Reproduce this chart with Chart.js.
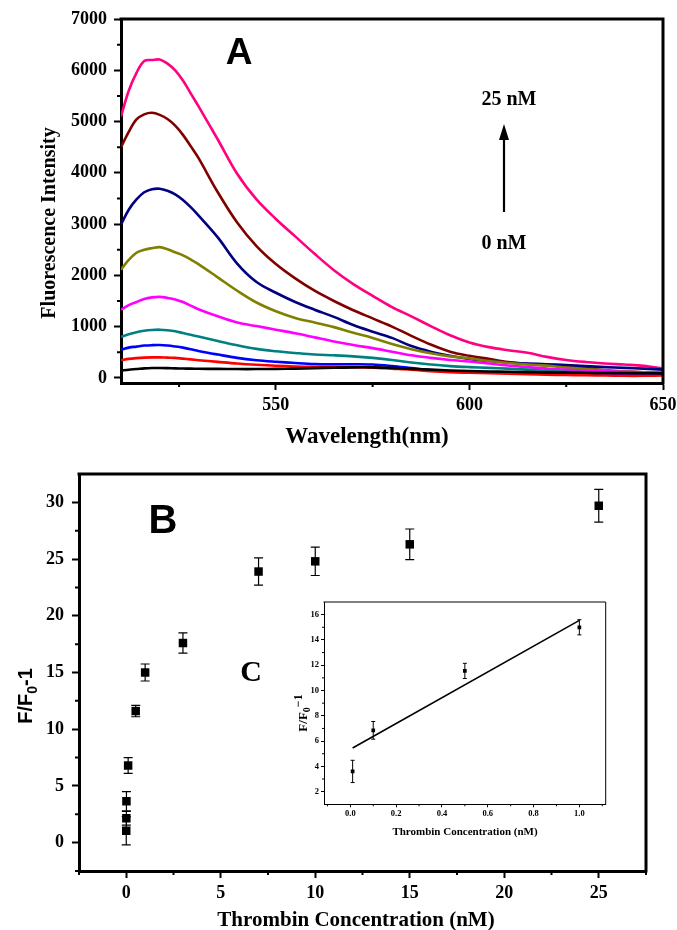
<!DOCTYPE html>
<html><head><meta charset="utf-8">
<script src="https://cdn.jsdelivr.net/npm/chart.js@4.4.1/dist/chart.umd.min.js"></script>
<style>
html,body{margin:0;padding:0;background:#fff;}
body{width:677px;height:930px;position:relative;overflow:hidden;}
canvas{position:absolute;}
</style></head><body>
<canvas id="cA" width="677" height="455" style="left:0;top:0;width:677px;height:455px"></canvas>
<canvas id="cB" width="677" height="475" style="left:0;top:455px;width:677px;height:475px"></canvas>
<canvas id="cC" width="350" height="260" style="left:270px;top:590px;width:350px;height:260px"></canvas>
<script>
// ---------- Panel A data ----------
const wavelengths = [510,512,514,516,518,520,522,524,526,528,530,535,540,545,550,555,560,565,570,575,580,585,590,595,600,605,610,615,620,625,630,635,640,645,650];
const intensity0  = [145,160,172,185,192,192,190,185,182,180,178,175,172,172,175,180,190,198,205,205,195,175,160,145,135,125,118,112,108,104,100,96,94,90,88];
const intensity1  = [345,370,385,395,400,400,395,390,375,360,345,312,280,255,235,222,215,215,210,200,180,160,130,110,100,90,80,70,60,55,50,45,40,40,45];
const intensity2  = [550,590,610,630,638,640,630,612,590,560,525,455,390,345,315,290,270,265,265,260,230,190,150,130,115,105,100,95,90,85,80,75,70,70,65];
const intensity3  = [800,850,890,920,935,940,930,910,875,840,805,720,635,565,520,485,455,440,420,390,350,300,260,230,210,195,180,160,140,120,110,100,90,80,70];
const intensity4  = [1330,1420,1480,1540,1570,1580,1560,1530,1480,1410,1340,1200,1080,1010,940,870,790,710,640,580,510,440,390,350,320,280,240,210,180,160,140,130,120,110,100];
const intensity5  = [2110,2300,2440,2500,2530,2550,2510,2450,2390,2310,2220,1960,1700,1470,1300,1170,1080,990,880,780,660,560,480,420,380,330,290,260,240,200,170,150,130,110,100];
const intensity6  = [2990,3280,3480,3620,3680,3690,3650,3580,3470,3330,3170,2740,2230,1870,1660,1480,1330,1190,1030,900,780,620,510,430,370,330,300,280,265,250,230,210,195,180,160];
const intensity7  = [4500,4800,5040,5140,5170,5130,5050,4920,4740,4520,4290,3620,3030,2570,2220,1940,1700,1500,1320,1160,1000,820,650,510,430,370,310,270,245,225,190,150,125,110,100];
const intensity8  = [5100,5600,5950,6180,6200,6210,6130,6000,5800,5550,5300,4650,3980,3480,3100,2760,2420,2100,1830,1600,1380,1200,1010,830,690,600,540,490,410,350,310,280,260,235,180];
const seriesA = [intensity0,intensity1,intensity2,intensity3,intensity4,intensity5,intensity6,intensity7,intensity8];
const colorsA = ['#000000','#ff0000','#0000ff','#008080','#ff00ff','#808000','#000080','#800000','#ff0080'];
const xTicksA = [550,600,650];
const xMinorA = [525,575,625];
const yTicksA = [0,1000,2000,3000,4000,5000,6000,7000];
const yMinorA = [500,1500,2500,3500,4500,5500,6500];

// ---------- Panel B data ----------
const concB   = [0,0.005,0.01,0.1,0.5,1,3,7,10,15,25];
const ratioB  = [1.05,2.15,3.65,6.8,11.6,15.0,17.6,23.9,24.8,26.3,29.7];
const errorB  = [1.25,0.6,0.85,0.7,0.5,0.75,0.9,1.2,1.25,1.35,1.45];
const xTicksB = [0,5,10,15,20,25];
const xMinorB = [-2.5,2.5,7.5,12.5,17.5,22.5,27.5];
const yTicksB = [0,5,10,15,20,25,30];
const yMinorB = [-2.5,2.5,7.5,12.5,17.5,22.5,27.5];

// ---------- Inset C data ----------
const concC   = [0.01,0.1,0.5,1.0];
const ratioC  = [3.6,6.85,11.55,15.0];
const errorC  = [0.88,0.7,0.6,0.6];
const fitX    = [0.01,1.0];
const fitY    = [5.45,15.55];
const xTicksC = [0,0.2,0.4,0.6,0.8,1.0];
const xMinorC = [-0.1,0.1,0.3,0.5,0.7,0.9,1.1];
const yTicksC = [2,4,6,8,10,12,14,16];
const yMinorC = [3,5,7,9,11,13,15];

// ---------- helpers ----------
const SERIF = "'Liberation Serif','Times New Roman',serif";
const SANS = "'Liberation Sans',Arial,sans-serif";
function framePlugin(w){return {id:'frame',afterDraw(chart){const a=chart.chartArea,ctx=chart.ctx;ctx.save();ctx.strokeStyle='#000';ctx.lineWidth=w;ctx.lineCap='square';ctx.beginPath();ctx.moveTo(a.left,a.top);ctx.lineTo(a.right,a.top);ctx.lineTo(a.right,a.bottom);ctx.stroke();ctx.restore();}};}
function minorPlugin(xv,yv,len,w){return {id:'minor',afterDraw(chart){const {ctx,chartArea:a,scales}=chart;ctx.save();ctx.strokeStyle='#000';ctx.lineWidth=w;ctx.beginPath();
  xv.forEach(v=>{const p=scales.x.getPixelForValue(v);ctx.moveTo(p,a.bottom);ctx.lineTo(p,a.bottom+len);});
  yv.forEach(v=>{const p=scales.y.getPixelForValue(v);ctx.moveTo(a.left-len,p);ctx.lineTo(a.left,p);});
  ctx.stroke();ctx.restore();}};}
function drawRich(ctx,t){
  ctx.save();ctx.fillStyle='#000';ctx.textAlign='left';ctx.textBaseline='alphabetic';
  ctx.translate(t.x,t.y);if(t.rot)ctx.rotate(t.rot);
  let total=0;t.parts.forEach(p=>{ctx.font=p.font;total+=ctx.measureText(p.t).width;});
  let cx=-total/2;
  t.parts.forEach(p=>{ctx.font=p.font;ctx.fillText(p.t,cx,(p.dy||0)+t.base);cx+=ctx.measureText(p.t).width;});
  ctx.restore();
}
function textPlugin(texts,arrows){return {id:'texts',afterDraw(chart){const ctx=chart.ctx;
  texts.forEach(t=>{ if(t.parts){drawRich(ctx,t);return;}
    ctx.save();ctx.font=t.font;ctx.fillStyle='#000';ctx.textAlign='center';ctx.textBaseline='middle';ctx.translate(t.x,t.y);if(t.rot)ctx.rotate(t.rot);ctx.fillText(t.text,0,0);ctx.restore();});
  (arrows||[]).forEach(r=>{ctx.save();ctx.strokeStyle='#000';ctx.fillStyle='#000';ctx.lineWidth=2.2;ctx.beginPath();ctx.moveTo(r.x,r.y1);ctx.lineTo(r.x,r.y2+14);ctx.stroke();ctx.beginPath();ctx.moveTo(r.x,r.y2);ctx.lineTo(r.x-5,r.y2+16);ctx.lineTo(r.x+5,r.y2+16);ctx.closePath();ctx.fill();ctx.restore();});
}};}
const errorPlugin={id:'errbars',beforeDatasetsDraw(chart){const ctx=chart.ctx,xs=chart.scales.x,ys=chart.scales.y;
  chart.data.datasets.forEach(ds=>{if(!ds.errors)return;ctx.save();ctx.strokeStyle='#000';ctx.lineWidth=ds.errLineWidth;ctx.beginPath();
    ds.data.forEach((p,j)=>{const x=xs.getPixelForValue(p.x),y1=ys.getPixelForValue(p.y-ds.errors[j]),y2=ys.getPixelForValue(p.y+ds.errors[j]),c=ds.capHalf;
      ctx.moveTo(x,y1);ctx.lineTo(x,y2);ctx.moveTo(x-c,y1);ctx.lineTo(x+c,y1);ctx.moveTo(x-c,y2);ctx.lineTo(x+c,y2);});
    ctx.stroke();ctx.restore();});}};
function axis(min,max,ticks,fit,isX,opt){return {
  type:'linear',min:min,max:max,z:1,
  afterBuildTicks:s=>{s.ticks=ticks.map(v=>({value:v}));},
  afterFit:s=>{if(isX){s.height=fit;s.paddingLeft=0;s.paddingRight=0;}else{s.width=fit;s.paddingTop=0;s.paddingBottom=0;}},
  grid:{drawOnChartArea:false,drawTicks:true,tickLength:opt.tl,tickWidth:opt.tw,tickColor:'#000'},
  border:{display:true,color:'#000',width:opt.bw},
  ticks:{color:'#000',font:{family:SERIF,size:opt.fs,weight:'bold'},padding:opt.pad,autoSkip:false,maxRotation:0,callback:opt.cb||(v=>String(v))}
};}
const base={responsive:false,animation:false,devicePixelRatio:1,events:[],plugins:{legend:{display:false},tooltip:{enabled:false}}};

// ---------- Chart A ----------
new Chart(document.getElementById('cA'),{
  type:'line',
  data:{datasets:seriesA.map((vals,k)=>({data:wavelengths.map((w,i)=>({x:w,y:vals[i]})),borderColor:colorsA[k],borderWidth:2.6,pointRadius:0,tension:0.35,fill:false}))},
  options:Object.assign({},base,{
    layout:{padding:{left:0,top:19,right:14,bottom:32}},
    scales:{
      x:axis(510,650,xTicksA,40,true,{tl:7,tw:2,bw:3,fs:18,pad:5}),
      y:axis(-100,7000,yTicksA,121,false,{tl:7,tw:2,bw:3,fs:18,pad:7})
    }}),
  plugins:[framePlugin(3),minorPlugin(xMinorA,yMinorA,4,2),textPlugin([
    {text:'A',x:239,y:54,font:'bold 37px '+SANS},
    {text:'25 nM',x:509,y:100,font:'bold 20px '+SERIF},
    {text:'0 nM',x:504,y:244,font:'bold 20px '+SERIF},
    {text:'Fluorescence Intensity',x:50,y:223,rot:-Math.PI/2,font:'bold 20px '+SERIF},
    {text:'Wavelength(nm)',x:367,y:437,font:'bold 23px '+SERIF}
  ],[{x:504,y1:212,y2:124}])]
});

// ---------- Chart B ----------
new Chart(document.getElementById('cB'),{
  type:'scatter',
  data:{datasets:[{data:concB.map((c,i)=>({x:c,y:ratioB[i]})),errors:errorB,errLineWidth:1.2,capHalf:4.5,
    pointStyle:'rect',pointRadius:6,backgroundColor:'#000',borderColor:'#000',borderWidth:0,showLine:false}]},
  options:Object.assign({},base,{
    layout:{padding:{left:0,top:19,right:31,bottom:19}},
    scales:{
      x:axis(-2.5,27.5,xTicksB,40,true,{tl:7,tw:2,bw:3,fs:18,pad:5}),
      y:axis(-2.5,32.5,yTicksB,79,false,{tl:7,tw:2,bw:3,fs:18,pad:8})
    }}),
  plugins:[errorPlugin,framePlugin(3),minorPlugin(xMinorB,yMinorB,4,2),textPlugin([
    {text:'B',x:163,y:67,font:'bold 40px '+SANS},
    {text:'C',x:251,y:218,font:'bold 30px '+SERIF},
    {x:25,y:241,rot:-Math.PI/2,base:7,parts:[
      {t:'F/F',font:'bold 20px '+SANS},{t:'0',font:'bold 14px '+SANS,dy:5},{t:'-1',font:'bold 20px '+SANS}]},
    {text:'Thrombin Concentration (nM)',x:356,y:466,font:'bold 21px '+SERIF}
  ])]
});

// ---------- Inset C ----------
new Chart(document.getElementById('cC'),{
  type:'scatter',
  data:{datasets:[
    {data:fitX.map((x,i)=>({x:x,y:fitY[i]})),showLine:true,borderColor:'#000',borderWidth:1.6,pointRadius:0,fill:false},
    {data:concC.map((c,i)=>({x:c,y:ratioC[i]})),errors:errorC,errLineWidth:1,capHalf:2,
     pointStyle:'rect',pointRadius:2.6,backgroundColor:'#000',borderColor:'#000',borderWidth:0,showLine:false}
  ]},
  options:Object.assign({},base,{
    layout:{padding:{left:0,top:12,right:14.3,bottom:15.7}},
    scales:{
      x:axis(-0.115,1.115,xTicksC,30,true,{tl:3,tw:1,bw:1,fs:8.5,pad:1,cb:v=>v.toFixed(1)}),
      y:axis(1,17,yTicksC,54,false,{tl:3,tw:1,bw:1,fs:8.5,pad:2})
    }}),
  plugins:[errorPlugin,framePlugin(1),minorPlugin(xMinorC,yMinorC,2,1),textPlugin([
    {x:32,y:123,rot:-Math.PI/2,base:4.5,parts:[
      {t:'F/F',font:'bold 13px '+SERIF},{t:'0',font:'bold 10px '+SERIF,dy:3},{t:'\u22121',font:'bold 12px '+SERIF,dy:-5}]},
    {text:'Thrombin Concentration (nM)',x:195,y:242,font:'bold 11px '+SERIF}
  ])]
});
</script>
</body></html>
